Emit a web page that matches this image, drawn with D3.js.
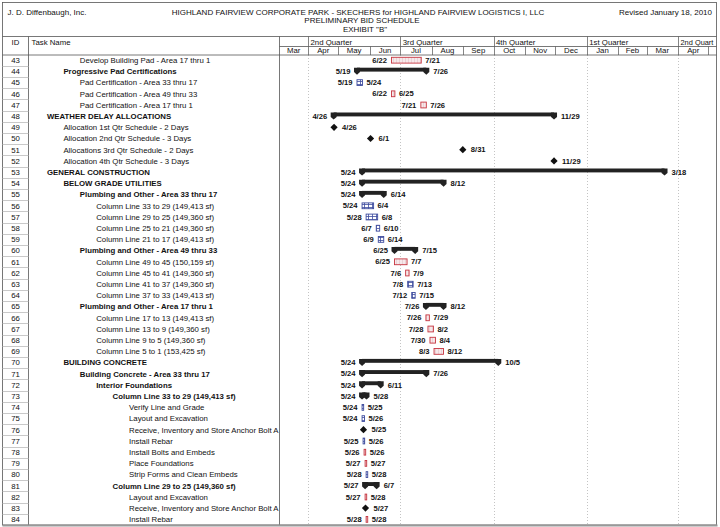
<!DOCTYPE html>
<html><head><meta charset="utf-8">
<script src="https://cdn.jsdelivr.net/npm/d3@7"></script>
<style>
html,body{margin:0;padding:0;background:#fff;}
svg text{font-family:"Liberation Sans",Arial,sans-serif;fill:#111;}
</style></head>
<body>
<svg id="chart" width="720" height="527"></svg>
<script>
// ---------- data ----------
const taskIds = [43,44,45,46,47,48,49,50,51,52,53,54,55,56,57,58,59,60,61,62,63,64,65,66,67,68,69,70,71,72,73,74,75,76,77,78,79,80,81,82,83,84];
const taskNames = [
 "Develop Building Pad - Area 17 thru 1",
 "Progressive Pad Certifications",
 "Pad Certification - Area 33 thru 17",
 "Pad Certification - Area 49 thru 33",
 "Pad Certification - Area 17 thru 1",
 "WEATHER DELAY ALLOCATIONS",
 "Allocation 1st Qtr Schedule - 2 Days",
 "Allocation 2nd Qtr Schedule - 3 Days",
 "Allocations 3rd Qtr Schedule - 2 Days",
 "Allocation 4th Qtr Schedule - 3 Days",
 "GENERAL CONSTRUCTION",
 "BELOW GRADE UTILITIES",
 "Plumbing and Other - Area 33 thru 17",
 "Column Line 33 to 29 (149,413 sf)",
 "Column Line 29 to 25 (149,360 sf)",
 "Column Line 25 to 21 (149,360 sf)",
 "Column Line 21 to 17 (149,413 sf)",
 "Plumbing and Other - Area 49 thru 33",
 "Column Line 49 to 45 (150,159 sf)",
 "Column Line 45 to 41 (149,360 sf)",
 "Column Line 41 to 37 (149,360 sf)",
 "Column Line 37 to 33 (149,413 sf)",
 "Plumbing and Other - Area 17 thru 1",
 "Column Line 17 to 13 (149,413 sf)",
 "Column Line 13 to 9 (149,360 sf)",
 "Column Line 9 to 5 (149,360 sf)",
 "Column Line 5 to 1 (153,425 sf)",
 "BUILDING CONCRETE",
 "Building Concrete - Area 33 thru 17",
 "Interior Foundations",
 "Column Line 33 to 29 (149,413 sf)",
 "Verify Line and Grade",
 "Layout and Excavation",
 "Receive, Inventory and Store Anchor Bolt A",
 "Install Rebar",
 "Install Bolts and Embeds",
 "Place Foundations",
 "Strip Forms and Clean Embeds",
 "Column Line 29 to 25 (149,360 sf)",
 "Layout and Excavation",
 "Receive, Inventory and Store Anchor Bolt A",
 "Install Rebar"
];
const outlineLevels = [3,2,3,3,3,1,2,2,2,2,1,2,3,4,4,4,4,3,4,4,4,4,3,4,4,4,4,2,3,4,5,6,6,6,6,6,6,6,5,6,6,6];
// t = task, s = summary, m = milestone
const taskTypes = ["t","s","t","t","t","s","m","m","m","m","s","s","s","t","t","t","t","s","t","t","t","t","s","t","t","t","t","s","s","s","s","t","t","m","t","t","t","t","s","t","m","t"];
const critical  = [1,0,0,1,1,0,0,0,0,0,0,0,0,0,0,0,0,0,1,1,0,0,0,1,1,1,1,0,0,0,0,0,0,0,0,1,1,0,0,1,0,1];
const startDates = ["2010-06-22","2010-05-19","2010-05-19","2010-06-22","2010-07-21","2010-04-26","2010-04-26","2010-06-01","2010-08-31","2010-11-29",
 "2010-05-24","2010-05-24","2010-05-24","2010-05-24","2010-05-28","2010-06-07","2010-06-09","2010-06-25","2010-06-25","2010-07-06",
 "2010-07-08","2010-07-12","2010-07-26","2010-07-26","2010-07-28","2010-07-30","2010-08-03","2010-05-24","2010-05-24","2010-05-24",
 "2010-05-24","2010-05-24","2010-05-24","2010-05-25","2010-05-25","2010-05-26","2010-05-27","2010-05-28","2010-05-27","2010-05-27",
 "2010-05-27","2010-05-28"];
const finishDates = ["2010-07-21","2010-07-26","2010-05-24","2010-06-25","2010-07-26","2010-11-29","2010-04-26","2010-06-01","2010-08-31","2010-11-29",
 "2011-03-18","2010-08-12","2010-06-14","2010-06-04","2010-06-08","2010-06-10","2010-06-14","2010-07-15","2010-07-07","2010-07-09",
 "2010-07-13","2010-07-15","2010-08-12","2010-07-29","2010-08-02","2010-08-04","2010-08-12","2010-10-05","2010-07-26","2010-06-11",
 "2010-05-28","2010-05-25","2010-05-26","2010-05-25","2010-05-26","2010-05-26","2010-05-27","2010-05-28","2010-06-07","2010-05-28",
 "2010-05-27","2010-05-28"];
const monthLabels = ["Mar","Apr","May","Jun","Jul","Aug","Sep","Oct","Nov","Dec","Jan","Feb","Mar","Apr"];
const quarterLabels = ["","2nd Quarter","3rd Quarter","4th Quarter","1st Quarter","2nd Quart"];
const titleLines = ["HIGHLAND FAIRVIEW CORPORATE PARK - SKECHERS for HIGHLAND FAIRVIEW LOGISTICS I, LLC","PRELIMINARY BID SCHEDULE","EXHIBIT \"B\""];

// ---------- layout ----------
const W = 720, H = 527;
const L = 2.5, R = 716.5, T = 2.5, B = 525;
const idRight = 28.5, nameRight = 279.5;
const headTop = 36.5, tierMid = 46.5, headBottom = 55;
const rowH = 11.2, rowTop0 = 54.5;

const svg = d3.select("#chart");
const parse = d3.utcParse("%Y-%m-%d");
const x = d3.scaleUtc()
  .domain([new Date(Date.UTC(2010,3,1)), new Date(Date.UTC(2011,3,1))])
  .range([308, 678]);
const y = d3.scaleBand().domain(taskIds).range([rowTop0, rowTop0 + rowH*taskIds.length]).padding(0);
const cy = id => y(id) + rowH/2;

const rows = taskIds.map((id,i)=>({
  id, name: taskNames[i], level: outlineLevels[i], type: taskTypes[i], crit: critical[i],
  s0: startDates[i], f0: finishDates[i],
  start: d3.utcHour.offset(parse(startDates[i]), 8),
  finish: d3.utcHour.offset(parse(finishDates[i]), 17)
}));

// patterns
const defs = svg.append("defs");
const pb = defs.append("pattern").attr("id","blueGrid").attr("patternUnits","userSpaceOnUse")
  .attr("width",4).attr("height",3);
pb.append("rect").attr("width",4).attr("height",3).attr("fill","#fff");
pb.append("line").attr("x1",0.5).attr("x2",0.5).attr("y1",0).attr("y2",3).attr("stroke","#3d4b9e").attr("stroke-width",0.8);
pb.append("line").attr("x1",0).attr("x2",4).attr("y1",0.5).attr("y2",0.5).attr("stroke","#3d4b9e").attr("stroke-width",0.8);
const pr = defs.append("pattern").attr("id","redFill").attr("patternUnits","userSpaceOnUse")
  .attr("width",3).attr("height",3);
pr.append("rect").attr("width",3).attr("height",3).attr("fill","#f6e8ea");
pr.append("line").attr("x1",0.5).attr("x2",0.5).attr("y1",0).attr("y2",3).attr("stroke","#e3c2c7").attr("stroke-width",0.6);

defs.append("clipPath").attr("id","tsClip").append("rect")
  .attr("x",nameRight).attr("y",0).attr("width",R-nameRight).attr("height",H);

// ---------- title ----------
svg.append("text").attr("x",7.5).attr("y",14.5).attr("font-size",8).text("J. D. Diffenbaugh, Inc.");
svg.append("text").attr("x",712).attr("y",14.5).attr("font-size",8).attr("text-anchor","end").text("Revised January 18, 2010");
const titleCx = [358,362,365];
titleLines.forEach((t,i)=>{
  svg.append("text").attr("x",titleCx[i]).attr("y",14.5+i*8.8).attr("font-size",8)
    .attr("text-anchor","middle").text(t);
});

// ---------- gridlines ----------
const qStarts = d3.utcMonths(new Date(Date.UTC(2010,0,1)), new Date(Date.UTC(2011,6,1)), 3);
const gTs = svg.append("g").attr("clip-path","url(#tsClip)");
gTs.selectAll("line.grid").data(qStarts.filter(d=>x(d)>nameRight+2)).join("line")
  .attr("x1",d=>Math.round(x(d))+0.5).attr("x2",d=>Math.round(x(d))+0.5)
  .attr("y1",headBottom).attr("y2",B)
  .attr("stroke","#b5b5b5").attr("stroke-width",0.8).attr("stroke-dasharray","1,2");

// ---------- header timescale ----------
const months = d3.utcMonths(new Date(Date.UTC(2010,2,1)), new Date(Date.UTC(2011,5,1)));
gTs.selectAll("line.mdiv").data(months).join("line")
  .attr("x1",d=>Math.round(x(d))+0.5).attr("x2",d=>Math.round(x(d))+0.5)
  .attr("y1",tierMid).attr("y2",headBottom).attr("stroke","#666").attr("stroke-width",0.8);
gTs.selectAll("text.month").data(months.slice(0,monthLabels.length)).join("text")
  .attr("x",(d,i)=>{const a=Math.max(nameRight,x(d)), b=x(months[i+1]); return (a+b)/2;})
  .attr("y",53.3).attr("font-size",7.8).attr("text-anchor","middle")
  .text((d,i)=>monthLabels[i]);
gTs.selectAll("line.qdiv").data(qStarts).join("line")
  .attr("x1",d=>Math.round(x(d))+0.5).attr("x2",d=>Math.round(x(d))+0.5)
  .attr("y1",headTop).attr("y2",tierMid).attr("stroke","#666").attr("stroke-width",0.8);
svg.append("g").selectAll("text.q").data(qStarts.slice(0,quarterLabels.length)).join("text")
  .attr("x",d=>Math.max(nameRight,x(d))+2.5).attr("y",44.8)
  .attr("font-size",(d,i)=>i===quarterLabels.length-1?7.4:7.8)
  .text((d,i)=>quarterLabels[i]);

svg.append("text").attr("x",15.5).attr("y",44.8).attr("font-size",7.8).attr("text-anchor","middle").text("ID");
svg.append("text").attr("x",31.5).attr("y",44.8).attr("font-size",7.8).text("Task Name");

// ---------- frame lines ----------
const frame = svg.append("g").attr("stroke","#555").attr("stroke-width",0.8).attr("fill","none");
frame.append("rect").attr("x",L).attr("y",T).attr("width",R-L).attr("height",B-T);
frame.append("line").attr("x1",L).attr("x2",R).attr("y1",headTop).attr("y2",headTop);
frame.append("line").attr("x1",L).attr("x2",R).attr("y1",headBottom).attr("y2",headBottom);
frame.append("line").attr("x1",nameRight).attr("x2",R).attr("y1",tierMid).attr("y2",tierMid);
frame.append("line").attr("x1",idRight).attr("x2",idRight).attr("y1",headTop).attr("y2",B);
frame.append("line").attr("x1",nameRight).attr("x2",nameRight).attr("y1",headTop).attr("y2",B);
svg.append("line").attr("x1",L).attr("x2",R+1).attr("y1",B+0.5).attr("y2",B+0.5)
  .attr("stroke","#999").attr("stroke-width",2);

// ID cell separators
svg.append("g").selectAll("line").data(taskIds.slice(1)).join("line")
  .attr("x1",L).attr("x2",idRight).attr("y1",d=>Math.round(y(d))+0.5).attr("y2",d=>Math.round(y(d))+0.5)
  .attr("stroke","#bbb").attr("stroke-width",0.8);

// ---------- table text ----------
const indentX = lvl => 47 + (lvl-1)*16.4;
const gRows = svg.append("g");
gRows.selectAll("text.id").data(rows).join("text")
  .attr("x",15.5).attr("y",d=>cy(d.id)+2.8).attr("font-size",7.8).attr("text-anchor","middle")
  .attr("fill","#333").text(d=>d.id);
gRows.selectAll("text.name").data(rows).join("text")
  .attr("x",d=>indentX(d.level)).attr("y",d=>cy(d.id)+2.8).attr("font-size",7.8)
  .attr("font-weight",d=>d.type==="s"?"bold":"normal")
  .text(d=>d.name);

// ---------- gantt marks ----------
const gG = svg.append("g").attr("clip-path","url(#tsClip)");
const fmt = d3.utcFormat("%-m/%-d");
const labelFont = 7.6;

// summaries
const sums = rows.filter(d=>d.type==="s");
const gs = gG.selectAll("g.sum").data(sums).join("g");
gs.append("rect").attr("x",d=>x(d.start)).attr("y",d=>cy(d.id)-3.6)
  .attr("width",d=>x(d.finish)-x(d.start)).attr("height",3.9).attr("fill","#222");
const cap = (px,c)=>`${px-3},${c-3.6} ${px+3},${c-3.6} ${px+3},${c+0.8} ${px},${c+3.5} ${px-3},${c+0.8}`;
gs.append("polygon").attr("points",d=>cap(x(d.start),cy(d.id))).attr("fill","#222");
gs.append("polygon").attr("points",d=>cap(x(d.finish),cy(d.id))).attr("fill","#222");
gs.append("text").attr("x",d=>x(d.start)-6.5).attr("y",d=>cy(d.id)+2.6)
  .attr("text-anchor","end").attr("font-size",labelFont).attr("font-weight","bold")
  .text(d=>fmt(parse(d.s0)));
gs.append("text").attr("x",d=>x(d.finish)+7).attr("y",d=>cy(d.id)+2.6)
  .attr("font-size",labelFont).attr("font-weight","bold")
  .text(d=>fmt(parse(d.f0)));

// tasks
const tasks = rows.filter(d=>d.type==="t");
const gt = gG.selectAll("g.task").data(tasks).join("g");
gt.append("rect")
  .attr("x",d=>x(d.start)).attr("y",d=>cy(d.id)-2.8)
  .attr("width",d=>Math.max(1.6,x(d.finish)-x(d.start))).attr("height",5.8)
  .attr("fill",d=>d.crit?"url(#redFill)":"url(#blueGrid)")
  .attr("stroke",d=>d.crit?"#c6343f":"#3d4b9e").attr("stroke-width",0.9);
gt.append("text").attr("x",d=>x(d.start)-4.5).attr("y",d=>cy(d.id)+2.6)
  .attr("text-anchor","end").attr("font-size",labelFont).attr("font-weight","bold")
  .text(d=>fmt(parse(d.s0)));
gt.append("text").attr("x",d=>Math.max(x(d.start)+1.6,x(d.finish))+4).attr("y",d=>cy(d.id)+2.6)
  .attr("font-size",labelFont).attr("font-weight","bold")
  .text(d=>fmt(parse(d.f0)));

// milestones
const ms = rows.filter(d=>d.type==="m");
const gm = gG.selectAll("g.ms").data(ms).join("g");
gm.append("path").attr("d",d=>{const px=x(d.finish), c=cy(d.id); return `M${px},${c-3.6}L${px+3.6},${c}L${px},${c+3.6}L${px-3.6},${c}Z`;})
  .attr("fill","#111");
gm.append("text").attr("x",d=>x(d.finish)+8).attr("y",d=>cy(d.id)+2.6)
  .attr("font-size",labelFont).attr("font-weight","bold")
  .text(d=>fmt(parse(d.f0)));
</script>
</body></html>
